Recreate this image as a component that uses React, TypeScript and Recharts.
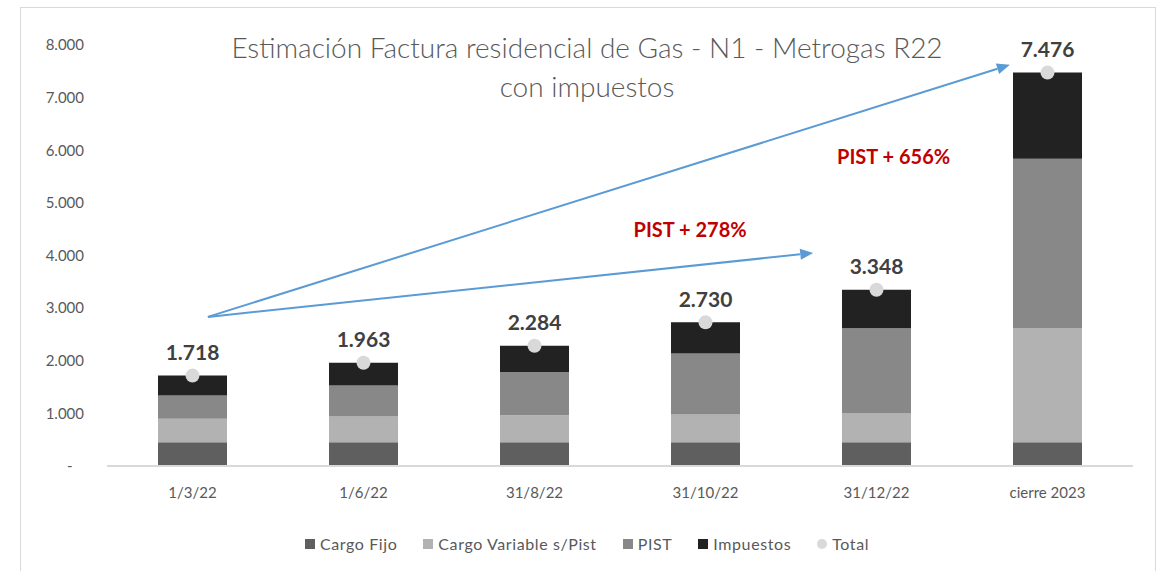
import React from 'react'
import {
  ComposedChart, Bar, Scatter, XAxis, YAxis, ReferenceLine, ReferenceDot, LabelList,
} from 'recharts'

// values (pesos)
const categories    = ['1/3/22', '1/6/22', '31/8/22', '31/10/22', '31/12/22', 'cierre 2023']
const cargoFijo     = [450, 450, 450, 450, 450, 450]
const cargoVariable = [450, 490, 515, 530, 550, 2170]
const pist          = [440, 590, 820, 1160, 1618, 3220]
const impuestos     = [378, 433, 499, 590, 730, 1636]
const totals        = [1718, 1963, 2284, 2730, 3348, 7476]
const yTicks        = [0, 1000, 2000, 3000, 4000, 5000, 6000, 7000, 8000]

// annotations, in data space (x = position on a 0..6 scale, category i centred at i + 0.5)
const arrows = [
  { from: { x: 0.59, y: 2833 }, to: { x: 4.13, y: 4049 } },
  { from: { x: 0.59, y: 2833 }, to: { x: 5.28, y: 7624 } },
]
const notes = [
  { x: 3.41, y: 4506, text: 'PIST + 278%' },
  { x: 4.60, y: 5894, text: 'PIST + 656%' },
]

const series = [
  { key: 'fijo',      name: 'Cargo Fijo',            color: '#5f5f5f' },
  { key: 'variable',  name: 'Cargo Variable s/Pist', color: '#b2b2b2' },
  { key: 'pist',      name: 'PIST',                  color: '#888888' },
  { key: 'impuestos', name: 'Impuestos',             color: '#222222' },
]

const data = categories.map((c, i) => ({
  cat: c,
  pos: i + 0.5,
  fijo: cargoFijo[i],
  variable: cargoVariable[i],
  pist: pist[i],
  impuestos: impuestos[i],
  total: totals[i],
}))

const FONT = 'Lato, "Open Sans", sans-serif'
const fmt = (v: number) => String(Math.round(v)).replace(/\B(?=(\d{3})+(?!\d))/g, '.')

const ArrowShape = (p: any) => {
  const { x1, y1, x2, y2 } = p
  const ang = Math.atan2(y2 - y1, x2 - x1)
  const len = 13, hw = 5.5
  const bx = x2 - len * Math.cos(ang), by = y2 - len * Math.sin(ang)
  const nx = -Math.sin(ang) * hw, ny = Math.cos(ang) * hw
  return (
    <g>
      <line x1={x1} y1={y1} x2={bx} y2={by} stroke="#5b9bd5" strokeWidth={2} />
      <polygon points={`${x2},${y2} ${bx + nx},${by + ny} ${bx - nx},${by - ny}`} fill="#5b9bd5" />
    </g>
  )
}

const TotalLabel = (p: any) => {
  const { x, y, width, value } = p
  return (
    <text x={x + width / 2} y={y - 24} textAnchor="middle" dominantBaseline="central"
      fill="#404040" fontSize={21} fontWeight={700} fontFamily={FONT}>
      {fmt(value)}
    </text>
  )
}

export default function App() {
  return (
    <div style={{ position: 'absolute', left: 0, top: 0, width: 1158, height: 571, background: '#fff', fontFamily: FONT }}>
      <div style={{
        position: 'absolute', left: 20, top: 7, width: 1134, height: 563,
        border: '1px solid #d9d9d9', borderBottom: 'none',
      }} />
      <div style={{
        position: 'absolute', left: 0, top: 28, width: 1174, textAlign: 'center',
        color: '#595959', fontSize: 28, fontWeight: 300, lineHeight: '39px',
      }}>
        Estimación Factura residencial de Gas - N1 - Metrogas R22<br />con impuestos
      </div>

      <div style={{ position: 'absolute', left: 0, top: 0 }}>
        <ComposedChart width={1158} height={571} data={data}
          margin={{ top: 45, right: 25, bottom: 75, left: 0 }}
          style={{ fontFamily: FONT }}>
          <XAxis dataKey="cat" axisLine={{ stroke: '#d9d9d9', strokeWidth: 2 }} tickLine={false}
            tickSize={0} tickMargin={21} tick={{ fill: '#595959', fontSize: 15 }} />
          <XAxis xAxisId="num" dataKey="pos" type="number" scale="linear" domain={[0, 6]}
            allowDataOverflow hide />
          <YAxis domain={[0, 8000]} ticks={yTicks} width={107} axisLine={false} tickLine={false}
            tickSize={0} tickMargin={23} tick={{ fill: '#595959', fontSize: 15 }}
            tickFormatter={(v: number) => (v === 0 ? '-\u00a0\u00a0\u00a0' : fmt(v))} />
          {series.map(s => (
            <Bar key={s.key} dataKey={s.key} name={s.name} stackId="a" fill={s.color}
              barSize={69} isAnimationActive={false}>
              {s.key === 'impuestos' && <LabelList dataKey="total" content={TotalLabel} />}
            </Bar>
          ))}
          <Scatter dataKey="total" name="Total" fill="#d9d9d9" isAnimationActive={false}
            shape={(p: any) => <circle cx={p.cx} cy={p.cy} r={7} fill="#d9d9d9" />} />
          {arrows.map((a, i) => (
            <ReferenceLine key={`arrow-${i}`} xAxisId="num" ifOverflow="visible"
              segment={[a.from, a.to]} shape={ArrowShape} />
          ))}
          {notes.map((n, i) => (
            <ReferenceDot key={`note-${i}`} xAxisId="num" x={n.x} y={n.y} r={0} ifOverflow="visible"
              shape={(p: any) => (
                <text x={p.cx} y={p.cy} textAnchor="middle" dominantBaseline="central"
                  fill="#c00000" fontSize={20} fontWeight={700} fontFamily={FONT}>{n.text}</text>
              )} />
          ))}
        </ComposedChart>
      </div>

      <div style={{
        position: 'absolute', left: 0, top: 534, width: 1174, display: 'flex',
        justifyContent: 'center', alignItems: 'center', gap: 26, color: '#595959',
        fontSize: 16, letterSpacing: 0.6,
      }}>
        {[...series, { key: 'total', name: 'Total', color: '#d9d9d9' }].map(s => (
          <div key={s.key} style={{ display: 'flex', alignItems: 'center', gap: 5 }}>
            <span style={{
              display: 'inline-block', width: 10, height: 10, background: s.color,
              borderRadius: s.key === 'total' ? '50%' : 0,
            }} />
            <span>{s.name}</span>
          </div>
        ))}
      </div>
    </div>
  )
}
